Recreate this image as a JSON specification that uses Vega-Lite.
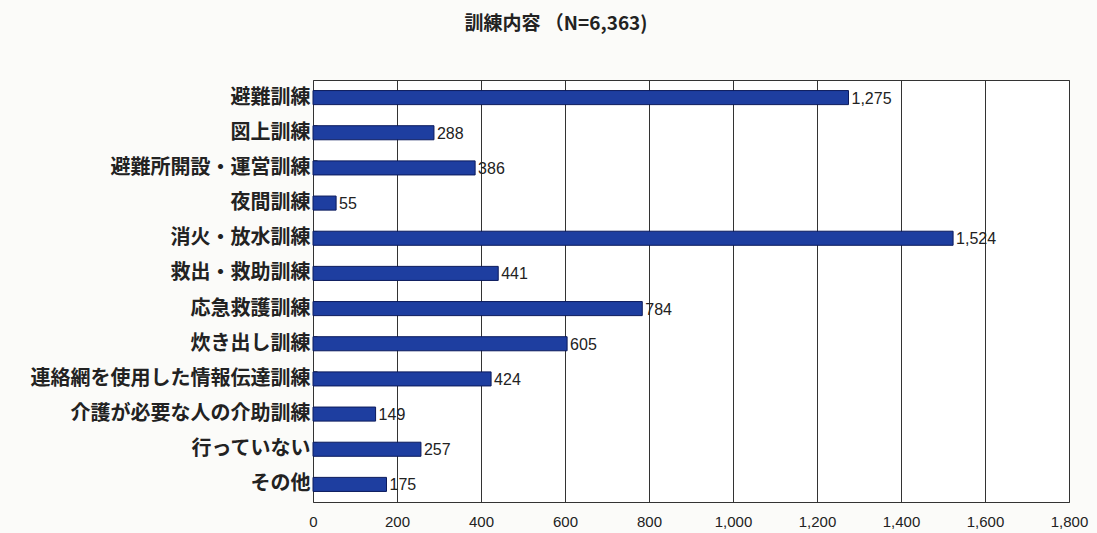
{
  "$schema": "https://vega.github.io/schema/vega-lite/v6.json",
  "width": 756,
  "height": 422,
  "autosize": {"type": "none"},
  "padding": {"left": 313, "top": 80, "right": 28, "bottom": 31},
  "background": "#fbfbf9",
  "title": {
    "text": "訓練内容 （N=6,363)",
    "font": "Noto Sans CJK JP",
    "fontSize": 19,
    "fontWeight": "bold",
    "color": "#222222",
    "anchor": "middle",
    "dx": -135,
    "offset": 46
  },
  "data": {
    "values": [
      {"item": "避難訓練", "count": 1275},
      {"item": "図上訓練", "count": 288},
      {"item": "避難所開設・運営訓練", "count": 386},
      {"item": "夜間訓練", "count": 55},
      {"item": "消火・放水訓練", "count": 1524},
      {"item": "救出・救助訓練", "count": 441},
      {"item": "応急救護訓練", "count": 784},
      {"item": "炊き出し訓練", "count": 605},
      {"item": "連絡網を使用した情報伝達訓練", "count": 424},
      {"item": "介護が必要な人の介助訓練", "count": 149},
      {"item": "行っていない", "count": 257},
      {"item": "その他", "count": 175}
    ]
  },
  "config": {
    "view": {"stroke": "#333333", "strokeWidth": 1, "fill": "#ffffff"}
  },
  "encoding": {
    "y": {
      "field": "item",
      "type": "nominal",
      "sort": null,
      "scale": {"paddingInner": 0.6, "paddingOuter": 0.3},
      "axis": {
        "title": null,
        "labelFont": "Noto Sans CJK JP",
        "labelFontSize": 20,
        "labelFontWeight": "bold",
        "labelColor": "#222222",
        "labelPadding": 7,
        "labelLimit": 400,
        "domain": false,
        "ticks": true,
        "tickSize": -4,
        "tickColor": "#666666",
        "bandPosition": 0,
        "grid": false
      }
    },
    "x": {
      "field": "count",
      "type": "quantitative",
      "scale": {"domain": [0, 1800], "nice": false},
      "axis": {
        "title": null,
        "values": [0, 200, 400, 600, 800, 1000, 1200, 1400, 1600, 1800],
        "format": ",d",
        "labelFont": "Liberation Sans",
        "labelFontSize": 15,
        "labelColor": "#222222",
        "labelPadding": 12,
        "labelFlush": false,
        "domain": false,
        "ticks": false,
        "grid": true,
        "gridColor": "#333333",
        "gridWidth": 1,
        "gridOpacity": 1
      }
    }
  },
  "layer": [
    {
      "mark": {"type": "bar", "color": "#1e3ea0", "stroke": "#0b1a5c", "strokeWidth": 1}
    },
    {
      "mark": {
        "type": "text",
        "align": "left",
        "baseline": "middle",
        "dx": 3,
        "dy": 1,
        "font": "Liberation Sans",
        "fontSize": 16,
        "color": "#222222"
      },
      "encoding": {"text": {"field": "count", "type": "quantitative", "format": ",d"}}
    }
  ]
}
